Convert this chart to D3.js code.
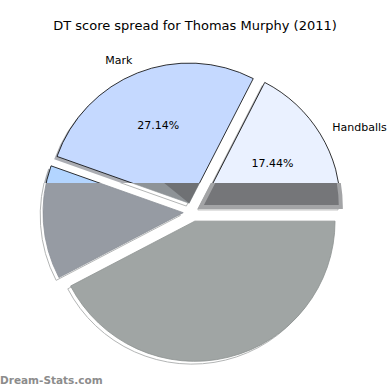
<!DOCTYPE html>
<html>
<head>
<meta charset="utf-8">
<script src="https://cdn.jsdelivr.net/npm/d3@7"></script>
<style>body{margin:0;background:#fff}</style>
</head>
<body>
<script>
// sizes
var width = 390, height = 390;
var cx = 192.6, cy = 212, radius = 140.2, explode = 9.4, cutY = 183;

// data
var labels = ["Handballs", "Mark", "", ""];
var percents = [17.44, 27.14, 13.08, 42.34];
var topColors = ["#eaf1ff", "#c5d9ff", "#b3d5ff", "#c4cdd6"];
var lowColors = ["#757679", "#8e9397", "#969ba3", "#a0a5a4"];
var lowStrokes = ["#a3a4a6", "#8e9397", "#8b9098", "#8d9291"];
var lowStrokeW = [4, 0.6, 0.8, 0.8];

var svg = d3.select("body").append("svg")
    .attr("width", width)
    .attr("height", height);

svg.append("rect").attr("width", width).attr("height", height).attr("fill", "#fff");

var defs = svg.append("defs");
defs.append("clipPath").attr("id", "clipTop")
    .append("rect").attr("x", 0).attr("y", 0).attr("width", width).attr("height", cutY);
defs.append("clipPath").attr("id", "clipLow")
    .append("rect").attr("x", 0).attr("y", cutY).attr("width", width).attr("height", height - cutY);

// pie counterclockwise from 3 o'clock
var pie = d3.pie().sort(null).startAngle(Math.PI / 2).endAngle(Math.PI / 2 - 2 * Math.PI);
var arcs = pie(percents);
var arc = d3.arc().innerRadius(0).outerRadius(radius);

function mid(d) { return (d.startAngle + d.endAngle) / 2; }
function pos(d, dx, dy) {
    var a = mid(d);
    return "translate(" + (cx + explode * Math.sin(a) + dx) + "," + (cy - explode * Math.cos(a) + dy) + ")";
}

// upper part: normal pie with shadow
var upper = svg.append("g").attr("clip-path", "url(#clipTop)");
upper.selectAll("path.shadow").data(arcs).enter().append("path")
    .attr("class", "shadow")
    .attr("d", arc)
    .attr("transform", function (d) { return pos(d, -2.8, 2.8); })
    .attr("fill", function (d, i) { return d3.color(topColors[i]).darker(3); })
    .attr("fill-opacity", 0.45);
upper.selectAll("path.slice").data(arcs).enter().append("path")
    .attr("class", "slice")
    .attr("d", arc)
    .attr("transform", function (d) { return pos(d, 0, 0); })
    .attr("fill", function (d, i) { return topColors[i]; })
    .attr("stroke", "#000")
    .attr("stroke-width", 0.8);

// lower part: greyed version
var lower = svg.append("g").attr("clip-path", "url(#clipLow)");
lower.selectAll("path.shadow").data(arcs).enter().append("path")
    .attr("class", "shadow")
    .attr("d", arc)
    .attr("transform", function (d) { return pos(d, -2.8, 2.8); })
    .attr("fill", "none")
    .attr("stroke", "#b4b6b6")
    .attr("stroke-width", 1);
lower.selectAll("path.slice").data(arcs).enter().append("path")
    .attr("class", "slice")
    .attr("d", arc)
    .attr("transform", function (d) { return pos(d, 0, 0); })
    .attr("fill", function (d, i) { return lowColors[i]; })
    .attr("stroke", function (d, i) { return lowStrokes[i]; })
    .attr("stroke-width", function (d, i) { return lowStrokeW[i]; });

// darker band inside the Mark slice near its apex
var markArc = arcs[1];
lower.append("path")
    .attr("d", arc({ startAngle: markArc.startAngle, endAngle: markArc.startAngle + 0.8 * (markArc.endAngle - markArc.startAngle) }))
    .attr("transform", pos(markArc, 0, 0))
    .attr("fill", "#6f7174");

// labels
var labelArc = d3.arc().innerRadius(radius * 1.1).outerRadius(radius * 1.1);
var pctArc = d3.arc().innerRadius(radius * 0.6).outerRadius(radius * 0.6);

svg.append("g").selectAll("text").data(arcs).enter().append("text")
    .attr("transform", function (d) {
        var c = labelArc.centroid(d);
        var a = mid(d);
        return "translate(" + (cx + explode * Math.sin(a) + c[0]) + "," + (cy - explode * Math.cos(a) + c[1]) + ")";
    })
    .attr("text-anchor", function (d) { return Math.sin(mid(d)) >= 0 ? "start" : "end"; })
    .attr("dy", "0.35em")
    .style("font-family", "DejaVu Sans")
    .style("font-size", "11px")
    .text(function (d, i) { return labels[i]; });

svg.append("g").selectAll("text").data(arcs.filter(function (d, i) { return labels[i] !== ""; })).enter().append("text")
    .attr("transform", function (d) {
        var c = pctArc.centroid(d);
        var a = mid(d);
        return "translate(" + (cx + explode * Math.sin(a) + c[0]) + "," + (cy - explode * Math.cos(a) + c[1]) + ")";
    })
    .attr("text-anchor", "middle")
    .attr("dy", "0.35em")
    .style("font-family", "DejaVu Sans")
    .style("font-size", "11px")
    .text(function (d) { return d.data.toFixed(2) + "%"; });

// title
svg.append("text")
    .attr("x", 195)
    .attr("y", 30)
    .attr("text-anchor", "middle")
    .style("font-family", "DejaVu Sans")
    .style("font-size", "13px")
    .text("DT score spread for Thomas Murphy (2011)");

// watermark
svg.append("text")
    .attr("x", 0)
    .attr("y", 384)
    .style("font-family", "DejaVu Sans")
    .style("font-size", "10.5px")
    .style("font-weight", "bold")
    .attr("fill", "#8c8c8c")
    .text("Dream-Stats.com");
</script>
</body>
</html>
